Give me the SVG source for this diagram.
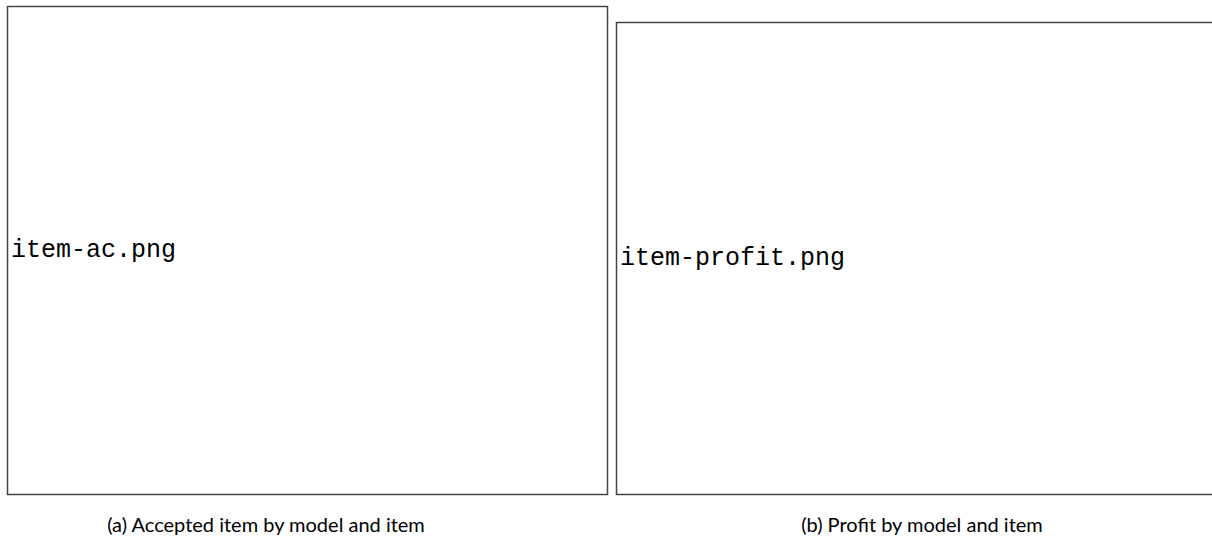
<svg xmlns="http://www.w3.org/2000/svg" width="1212" height="539" viewBox="0 0 1212 539">
<style>
.frame{fill:#fff;stroke:#444;stroke-width:1.5}
.fname{font-family:"Liberation Mono",monospace;font-size:25px;fill:#000}
.cap{font-family:Lato,"Liberation Sans",sans-serif;font-size:20px;fill:#000;text-anchor:middle}
</style>
<rect width="1212" height="539" fill="#fff"/>
<g id="panel-a">
<rect class="frame" x="7.5" y="6.5" width="600" height="488"/>
<text class="fname" x="11" y="257">item-ac.png</text>
<text class="cap" x="266" y="532">(a) Accepted item by model and item</text>
</g>
<g id="panel-b">
<rect class="frame" x="616.5" y="22.5" width="620" height="472"/>
<text class="fname" x="620" y="265">item-profit.png</text>
<text class="cap" x="922" y="532">(b) Profit by model and item</text>
</g>
<g id="connectors"/>
</svg>
